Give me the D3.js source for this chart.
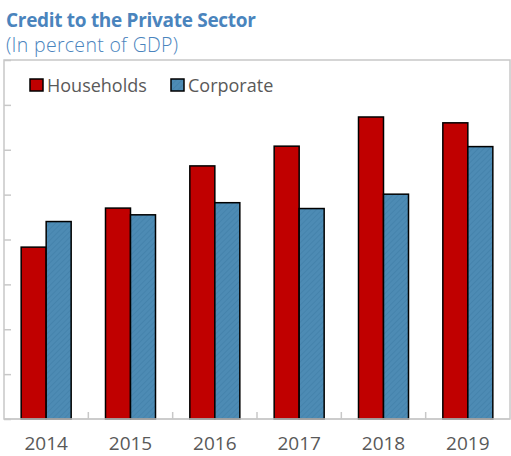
<!DOCTYPE html>
<html>
<head>
<meta charset="utf-8">
<script src="https://cdn.jsdelivr.net/npm/d3@7"></script>
<style>
  body { margin: 0; background: #fff; }
  svg { display: block; font-family: "Open Sans", "Noto Sans", sans-serif; }
</style>
</head>
<body>
<svg id="chart"></svg>
<script>
var years = ["2014", "2015", "2016", "2017", "2018", "2019"];
var households = [38.3, 47.0, 56.4, 60.8, 67.3, 66.0];
var corporate = [44.0, 45.5, 48.2, 46.9, 50.1, 60.7];
var seriesNames = ["Households", "Corporate"];
var yTicks = [0, 10, 20, 30, 40, 50, 60, 70, 80];

var width = 511,
    height = 456;
var margin = { top: 60, right: 1, bottom: 37, left: 4 };

var svg = d3.select("#chart")
  .attr("width", width)
  .attr("height", height);

// hatched fill for the corporate bars
var defs = svg.append("defs");
var pat = defs.append("pattern")
    .attr("id", "hatch")
    .attr("patternUnits", "userSpaceOnUse")
    .attr("width", 4)
    .attr("height", 4)
    .attr("patternTransform", "rotate(45)");
pat.append("rect")
    .attr("width", 4).attr("height", 4)
    .attr("fill", "#4d8bb4");
pat.append("line")
    .attr("x1", 0).attr("y1", 0).attr("x2", 0).attr("y2", 4)
    .attr("stroke", "#4280a9")
    .attr("stroke-width", 1.5);

var x = d3.scaleBand()
  .domain(years)
  .range([margin.left, width - margin.right]);

var y = d3.scaleLinear()
  .domain([0, 80])
  .range([height - margin.bottom, margin.top]);

var barW = 25;

// frame
svg.append("rect")
  .attr("x", margin.left)
  .attr("y", margin.top)
  .attr("width", width - margin.right - margin.left)
  .attr("height", y(0) - margin.top)
  .attr("fill", "none")
  .attr("stroke", "#c8c8c8")
  .attr("stroke-width", 1.5);

// left ticks, pointing inward
svg.append("g")
    .attr("transform", "translate(" + margin.left + ",0)")
    .call(d3.axisRight(y).tickValues(yTicks).tickSize(7).tickFormat(""))
    .call(function(g) { g.select(".domain").remove(); })
    .selectAll("line")
      .attr("stroke", "#c8c8c8")
      .attr("stroke-width", 1.5);

// bars
var groups = svg.append("g")
  .selectAll("g")
  .data(years)
  .enter().append("g")
    .attr("transform", function(d) { return "translate(" + (x(d) + x.bandwidth() / 2) + ",0)"; });

groups.append("rect")
    .attr("x", -barW)
    .attr("y", function(d, i) { return y(households[i]); })
    .attr("width", barW)
    .attr("height", function(d, i) { return y(0) - y(households[i]); })
    .attr("fill", "#c00000")
    .attr("stroke", "#000")
    .attr("stroke-width", 1.5);

groups.append("rect")
    .attr("x", 0)
    .attr("y", function(d, i) { return y(corporate[i]); })
    .attr("width", barW)
    .attr("height", function(d, i) { return y(0) - y(corporate[i]); })
    .attr("fill", "url(#hatch)")
    .attr("stroke", "#000")
    .attr("stroke-width", 1.5);

// x axis: baseline, ticks between groups, labels
var boundaries = years.slice(1).map(function(d) { return x(d); });
svg.append("line")
  .attr("x1", margin.left).attr("x2", width - margin.right)
  .attr("y1", y(0)).attr("y2", y(0))
  .attr("stroke", "#c8c8c8")
  .attr("stroke-width", 1.5);

svg.append("g")
  .selectAll("line")
  .data(boundaries)
  .enter().append("line")
    .attr("x1", function(d) { return d; })
    .attr("x2", function(d) { return d; })
    .attr("y1", y(0))
    .attr("y2", y(0) - 7)
    .attr("stroke", "#c8c8c8")
    .attr("stroke-width", 1.5);

// year labels (kept just inside the bottom edge)
svg.append("g")
  .selectAll("text")
  .data(years)
  .enter().append("text")
    .attr("x", function(d) { return x(d) + x.bandwidth() / 2; })
    .attr("y", 450)
    .attr("text-anchor", "middle")
    .attr("fill", "#595959")
    .style("font-size", "19px")
    .text(function(d) { return d; });

// title
svg.append("text")
  .attr("x", 6)
  .attr("y", 27)
  .attr("fill", "#4a84bd")
  .style("font-size", "19px")
  .style("font-weight", "bold")
  .style("letter-spacing", "-0.3px")
  .text("Credit to the Private Sector");

svg.append("text")
  .attr("x", 6)
  .attr("y", 52)
  .attr("fill", "#4a84bd")
  .style("font-size", "19.5px")
  .style("font-weight", "300")
  .style("letter-spacing", "0.3px")
  .text("(In percent of GDP)");

// legend
var legendX = [30, 171];
var legendFill = ["#c00000", "url(#hatch)"];
var legend = svg.append("g")
  .selectAll("g")
  .data(seriesNames)
  .enter().append("g")
    .attr("transform", function(d, i) { return "translate(" + legendX[i] + ",79)"; });

legend.append("rect")
    .attr("width", 13)
    .attr("height", 12)
    .attr("fill", function(d, i) { return legendFill[i]; })
    .attr("stroke", "#000")
    .attr("stroke-width", 1.5);

legend.append("text")
    .attr("x", 17)
    .attr("y", 12.5)
    .attr("fill", "#595959")
    .style("font-size", "18px")
    .text(function(d) { return d; });
</script>
</body>
</html>
